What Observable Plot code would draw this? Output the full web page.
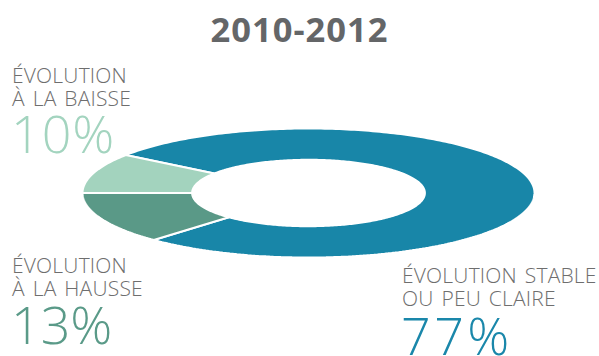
<!DOCTYPE html>
<html><head><meta charset="utf-8">
<script src="https://cdn.jsdelivr.net/npm/d3@7"></script>
<script src="https://cdn.jsdelivr.net/npm/@observablehq/plot@0.6"></script>
<style>
html,body{margin:0;padding:0;background:#fff;}
#wrap{position:relative;width:599px;height:356px;overflow:hidden;}
#wrap svg{position:absolute;left:0;top:0;}
</style></head><body><div id="wrap"></div>
<script>
const title = "2010-2012";
const categories = ["stable", "hausse", "baisse"];
const labelLines = [["ÉVOLUTION STABLE", "OU PEU CLAIRE"], ["ÉVOLUTION", "À LA HAUSSE"], ["ÉVOLUTION", "À LA BAISSE"]];
const values = [77, 13, 10];
const sliceColors = ["#1886a8", "#5a9987", "#a3d3be"];
const pctColors = ["#1a87aa", "#5a9a88", "#a3d4bf"];

const W = 599, H = 356;
const total = d3.sum(values);
const innerRatio = 0.515;
// boundary between "hausse" and "baisse" sits at 9 o'clock
const start = 1.5 * Math.PI + values[2] / total * 2 * Math.PI;
const arcs = d3.pie().sort(null).value(d => d).startAngle(start).endAngle(start + 2 * Math.PI)(values);

const pts = [];
arcs.forEach((a, i) => {
  const n = Math.max(8, Math.ceil((a.endAngle - a.startAngle) * 60));
  for (let k = 0; k <= n; k++) {
    const t = a.startAngle + (a.endAngle - a.startAngle) * k / n;
    pts.push({cat: categories[i], x: Math.sin(t), y: -Math.cos(t)});
  }
  for (let k = n; k >= 0; k--) {
    const t = a.startAngle + (a.endAngle - a.startAngle) * k / n;
    pts.push({cat: categories[i], x: innerRatio * Math.sin(t), y: -innerRatio * Math.cos(t)});
  }
});

const chart = Plot.plot({
  width: W, height: H, margin: 0,
  x: {domain: [-1, 1], range: [82, 534], axis: null},
  y: {domain: [-1, 1], range: [128, 257], axis: null},
  color: {domain: categories, range: sliceColors},
  style: {background: "transparent"},
  marks: [
    Plot.line(pts, {x: "x", y: "y", z: "cat", fill: "cat", stroke: "white", strokeWidth: 2, strokeLinejoin: "miter", curve: "linear-closed"})
  ]
});
const wrap = document.getElementById("wrap");
wrap.appendChild(chart);

// text layer
const svg = d3.select(wrap).append("svg").attr("width", W).attr("height", H)
  .style("font-family", "'Open Sans', sans-serif");
svg.append("text").attr("x", 299.5).attr("y", 41.7).attr("text-anchor", "middle")
  .attr("font-size", 34.5).attr("font-weight", 700).attr("letter-spacing", 1).attr("fill", "#646668").text(title);

const labelPos = [
  {x: 402, y: 283, py: 355, ls: 3.5},
  {x: 12, y: 273, py: 344, ls: 0},
  {x: 12, y: 83, py: 153, ls: 1}
];
labelLines.forEach((lines, i) => {
  const p = labelPos[i];
  lines.forEach((l, j) => {
    svg.append("text").attr("x", p.x).attr("y", p.y + j * 22.5)
      .attr("font-size", 21).attr("font-weight", 300).attr("fill", "#6e6e6e")
      .attr("letter-spacing", 0.2).attr("word-spacing", 2.2).text(l);
  });
  svg.append("text").attr("x", p.x - 1).attr("y", p.py)
    .attr("font-size", 52).attr("font-weight", 300).attr("letter-spacing", p.ls).attr("fill", pctColors[i]).text(values[i] + "%");
});
</script></body></html>
